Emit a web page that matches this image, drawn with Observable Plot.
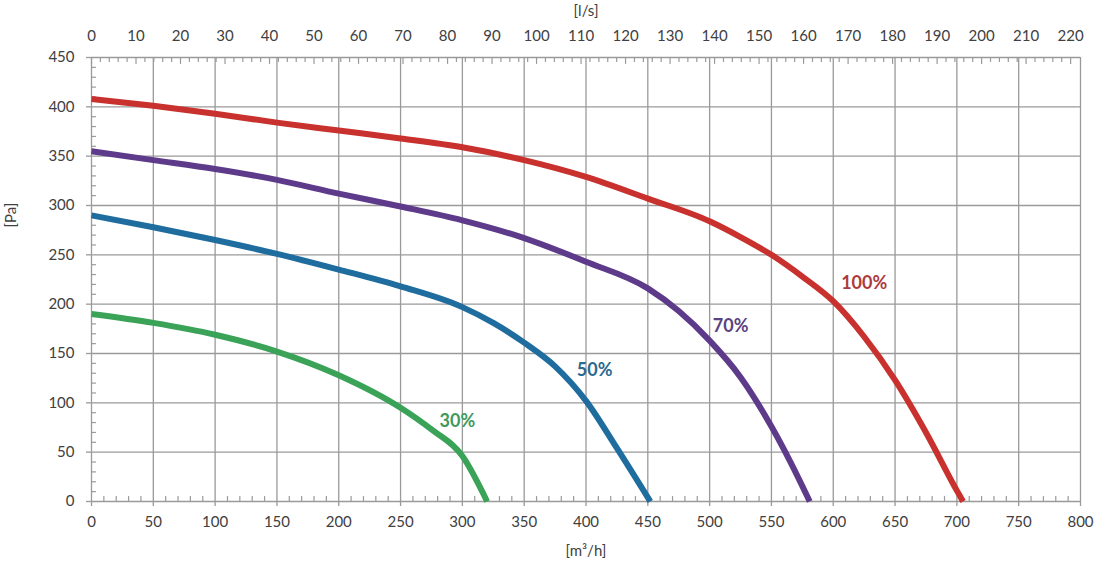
<!DOCTYPE html>
<html>
<head>
<meta charset="utf-8">
<script src="https://cdn.jsdelivr.net/npm/d3@7"></script>
<script src="https://cdn.jsdelivr.net/npm/@observablehq/plot@0.6"></script>
<style>
  html, body { margin: 0; padding: 0; background: #fff; }
  #chart { width: 1100px; height: 564px; }
</style>
</head>
<body>
<div id="chart"></div>
<script>
// ---- data (airflow m³/h vs pressure Pa) ----
const flow100 = [0, 50, 100, 150, 200, 250, 300, 350, 400, 450, 500, 525, 550, 575, 600, 625, 650, 675, 700, 705];
const pa100   = [408, 401, 393, 384, 376, 368, 359, 346, 329, 307, 284, 268, 250, 228, 203, 167, 123, 70, 11, 0];

const flow70 = [0, 50, 100, 150, 200, 250, 300, 350, 400, 450, 475, 500, 525, 550, 565, 581];
const pa70   = [355, 346, 337, 326, 312, 299, 285, 267, 243, 216, 193, 163, 126, 76, 41, 0];

const flow50 = [0, 50, 100, 150, 200, 250, 300, 325, 350, 375, 400, 425, 452];
const pa50   = [290, 278, 265, 251, 235, 218, 197, 181, 161, 137, 102, 54, 0];

const flow30 = [0, 50, 100, 150, 200, 250, 275, 300, 320];
const pa30   = [190, 181, 169, 152, 128, 95, 73, 46, 0];

const seriesNames  = ["100%", "70%", "50%", "30%"];
const labelFlow    = [625, 517, 407, 296];
const labelPa      = [221, 178, 133, 81];

// ---- axis ticks ----
const xTicks  = [0, 50, 100, 150, 200, 250, 300, 350, 400, 450, 500, 550, 600, 650, 700, 750, 800];
const yTicks  = [0, 50, 100, 150, 200, 250, 300, 350, 400, 450];
const lsTicks = [0, 10, 20, 30, 40, 50, 60, 70, 80, 90, 100, 110, 120, 130, 140, 150, 160, 170, 180, 190, 200, 210, 220];
const xMinor  = d3.range(0, 801, 10).filter(v => v % 50 !== 0);
const yMinor  = d3.range(0, 451, 10).filter(v => v % 50 !== 0);
const lsMinor = d3.range(0, 221, 2);

const lineColors  = ["#c8312d", "#5d3b8a", "#1f6c9e", "#3aa358"];
const labelColors = ["#ad3a3c", "#5b4280", "#2b6990", "#3f9a5c"];

function series(name, xs, ys) {
  return xs.map((x, i) => ({series: name, flow: x, pa: ys[i]}));
}
const curves = [
  series("100%", flow100, pa100),
  series("70%", flow70, pa70),
  series("50%", flow50, pa50),
  series("30%", flow30, pa30)
];
const labels = seriesNames.map((s, i) => ({text: s, flow: labelFlow[i], pa: labelPa[i], color: labelColors[i]}));

const gridColor = "#9a9a9a";

const chart = Plot.plot({
  width: 1100,
  height: 564,
  marginLeft: 91,
  marginRight: 20,
  marginTop: 57,
  marginBottom: 63,
  x: {domain: [0, 800]},
  y: {domain: [0, 450]},
  style: {fontFamily: "Lato, 'Open Sans', sans-serif", fontSize: "15px", color: "#404040", background: "#fff"},
  marks: [
    // grid
    Plot.ruleX(xTicks, {stroke: gridColor, strokeWidth: 1.3}),
    Plot.ruleY(yTicks, {stroke: gridColor, strokeWidth: 1.3}),
    // minor ticks (inside)
    Plot.ruleX(xMinor, {y1: 0, y2: 5, stroke: gridColor, strokeWidth: 1.2}),
    Plot.ruleY(yMinor, {x1: 0, x2: 4, stroke: gridColor, strokeWidth: 1.2}),
    Plot.ruleX(lsMinor, {x: d => d * 3.6, y1: 450, y2: d => d % 10 === 0 ? 443 : 445, stroke: gridColor, strokeWidth: 1.2}),
    // axes
    Plot.axisX(xTicks, {anchor: "bottom", tickSize: 5, tickPadding: 10, stroke: gridColor, strokeWidth: 1.3, label: null}),
    Plot.axisY(yTicks, {anchor: "left", tickSize: 5, tickPadding: 12, stroke: gridColor, strokeWidth: 1.3, label: null}),
    Plot.axisX(lsTicks.map(d => d * 3.6), {anchor: "top", tickSize: 0, tickPadding: 17, tickFormat: d => String(Math.round(d / 3.6)), label: null}),
    // axis titles
    Plot.text(["[m³/h]"], {frameAnchor: "bottom", dy: 54, fontSize: 15, fill: "#404040"}),
    Plot.text(["[l/s]"], {frameAnchor: "top", dy: -52, fontSize: 15, fill: "#404040"}),
    Plot.text(["[Pa]"], {frameAnchor: "left", dx: -80, dy: -52, rotate: -90, fontSize: 15, fill: "#404040"}),
    // curves
    ...curves.map((data, i) => Plot.line(data, {x: "flow", y: "pa", stroke: lineColors[i], strokeWidth: 6, curve: "monotone-x", strokeLinecap: "butt"})),
    // series labels
    Plot.text(labels, {x: "flow", y: "pa", text: "text", fill: "color", fontSize: 18, fontWeight: "bold"})
  ]
});
document.getElementById("chart").appendChild(chart);
</script>
</body>
</html>
